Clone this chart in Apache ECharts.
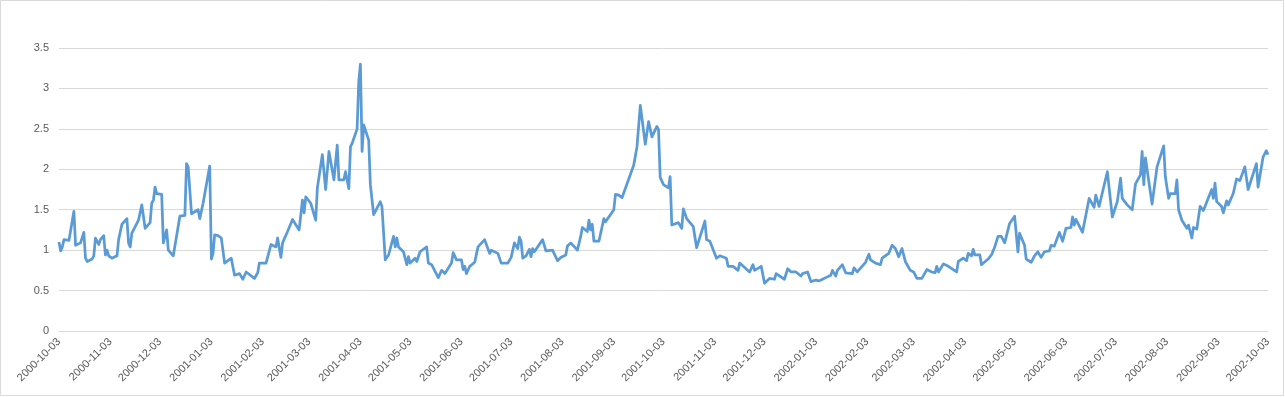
<!DOCTYPE html>
<html>
<head>
<meta charset="utf-8">
<script src="https://cdn.jsdelivr.net/npm/echarts@6/dist/echarts.min.js"></script>
<style>
  html, body { margin: 0; padding: 0; background: #fff; }
  #chart { width: 1285px; height: 397px; }
</style>
</head>
<body>
<div id="chart"></div>
<script>
// day number counted from 2000-10-03
const days = [
  0, 1, 2, 3, 6, 9, 10, 13, 15, 16, 17, 20, 21, 22, 24, 25, 27, 28, 29, 30,
  32, 35, 36, 37, 38, 41, 42, 43, 44, 45, 48, 49, 50, 52, 55, 56, 57, 58, 59, 62,
  63, 65, 66, 69, 73, 76, 77, 78, 80, 84, 85, 86, 87, 91, 92, 93, 94, 96, 98, 100,
  104, 106, 109, 111, 113, 118, 120, 121, 125,
  128, 131, 132, 134, 135, 138, 141, 145, 147, 148, 149, 152, 155, 156, 159, 161,
  163, 166, 168, 169, 172, 173, 175, 176, 177, 180, 181, 182, 183, 184, 187, 188,
  190, 194, 195, 197, 199, 202, 203, 204, 205, 208, 210, 211, 212, 215, 216, 218,
  222, 223, 225, 229, 231, 233, 237, 238, 240, 243,
  244, 245, 246, 248, 251, 253, 257, 260, 261, 265, 267, 271, 273, 275, 277, 278,
  279, 280, 282, 284, 285, 286, 287, 292, 294, 298, 301, 303, 306, 307, 309, 313,
  315, 316, 319, 320, 321, 322, 323, 326,
  329, 330, 335, 336, 338, 340, 347, 349, 351, 354, 355, 356, 357, 358, 361, 362,
  363, 365, 368, 369, 370, 374, 375, 376, 377, 379, 383, 385, 390, 391, 393, 397,
  399, 403, 404, 407, 410, 411, 417, 419, 420, 424, 426, 429, 432, 433, 438, 440,
  442, 445, 448,
  449, 452, 454, 457, 459, 461, 463, 466, 467, 469, 470, 473, 475, 479, 480, 482,
  487, 489, 490, 493, 494, 496, 497, 501, 502, 503, 505, 507, 509, 511, 514, 516,
  518, 521, 524, 527, 529, 530, 531, 534, 537, 542, 543, 546, 548, 549, 551, 552,
  553, 556, 557, 561, 563, 565, 566, 567, 569, 571, 572, 574, 577, 578, 579, 580,
  583, 584, 587,
  589, 591, 593, 595, 598, 599, 601, 604, 606, 608, 611, 612, 613, 614, 615, 618,
  622, 625, 626, 628, 629, 633, 636, 639, 641, 642, 645, 646, 648, 650, 653, 654,
  655, 656, 660, 661, 663, 667, 668, 670, 671, 674, 675, 676, 678, 681, 682, 684,
  685, 687, 689, 691, 696, 697, 698, 699, 702, 703, 704, 705, 706, 709, 710, 711,
  713, 716, 717, 718, 723, 724, 727, 729, 730
];

const values = [
  1.10, 0.99, 1.04, 1.13, 1.12, 1.48, 1.06, 1.09, 1.22, 0.90, 0.86, 0.89, 0.93, 1.15, 1.07, 1.13, 1.18, 0.94, 1.00, 0.93,
  0.90, 0.93, 1.13, 1.15, 1.32, 1.39, 1.09, 1.04, 1.21, 1.22, 1.37, 1.38, 1.56, 1.27, 1.34, 1.58, 1.62, 1.78, 1.70, 1.69,
  1.09, 1.25, 1.00, 0.93, 1.42, 1.43, 2.07, 2.03, 1.45, 1.50, 1.39, 1.39, 1.58, 2.04, 0.89, 0.96, 1.19, 1.18, 1.15, 0.84,
  0.90, 0.69, 0.71, 0.64, 0.73, 0.65, 0.72, 0.84, 0.84,
  1.07, 1.04, 1.15, 0.91, 1.09, 1.23, 1.38, 1.25, 1.62, 1.46, 1.66, 1.58, 1.37, 1.77, 2.18, 1.75,
  2.22, 1.87, 2.30, 1.87, 1.87, 1.97, 1.76, 2.28, 2.32, 2.50, 3.09, 3.30, 2.22, 2.55, 2.36, 1.81,
  1.44, 1.60, 1.54, 0.88, 0.94, 1.17, 1.04, 1.15, 1.04, 0.98, 0.82, 0.92, 0.84, 0.90, 0.86, 0.98,
  1.04, 0.84, 0.82, 0.66, 0.75, 0.71, 0.84, 0.97, 0.88, 0.88,
  0.76, 0.80, 0.71, 0.80, 0.85, 1.04, 1.13, 0.96, 1.00, 0.96, 0.84, 0.84, 0.91, 1.09, 1.02, 1.16,
  1.11, 0.90, 0.93, 1.01, 0.92, 1.02, 0.98, 1.13, 0.99, 1.00, 0.87, 0.91, 0.94, 1.05, 1.09, 1.00,
  1.17, 1.28, 1.23, 1.37, 1.25, 1.32, 1.11, 1.11,
  1.39, 1.35, 1.50, 1.69, 1.68, 1.65, 2.05, 2.28, 2.79, 2.31, 2.33, 2.59, 2.59, 2.40, 2.53, 2.49,
  1.90, 1.81, 1.77, 1.91, 1.31, 1.34, 1.36, 1.27, 1.51, 1.39, 1.29, 1.03, 1.36, 1.13, 1.11, 0.90,
  0.93, 0.90, 0.80, 0.80, 0.75, 0.84, 0.73, 0.82, 0.75, 0.80, 0.59, 0.65, 0.64, 0.71, 0.64, 0.77,
  0.73, 0.73, 0.68,
  0.71, 0.73, 0.61, 0.63, 0.62, 0.64, 0.66, 0.69, 0.75, 0.68, 0.75, 0.82, 0.72, 0.71, 0.78, 0.73,
  0.85, 0.95, 0.88, 0.84, 0.86, 0.82, 0.90, 0.96, 0.94, 1.06, 1.02, 0.92, 1.02, 0.86, 0.75, 0.73,
  0.65, 0.65, 0.76, 0.73, 0.72, 0.80, 0.73, 0.83, 0.80, 0.73, 0.86, 0.90, 0.87, 0.96, 0.93, 1.01,
  0.94, 0.94, 0.82, 0.89, 0.94, 1.04, 1.02, 1.17, 1.17, 1.09, 1.11, 1.33, 1.42, 1.42, 0.98, 1.21,
  1.06, 0.89, 0.85,
  0.93, 0.98, 0.91, 0.98, 0.99, 1.06, 1.05, 1.22, 1.11, 1.27, 1.28, 1.41, 1.31, 1.38, 1.37, 1.22,
  1.64, 1.53, 1.68, 1.54, 1.55, 1.97, 1.41, 1.60, 1.89, 1.64, 1.56, 1.58, 1.50, 1.82, 1.93, 2.22,
  1.81, 2.14, 1.57, 1.57, 2.03, 2.29, 1.91, 1.64, 1.70, 1.70, 1.87, 1.50, 1.37, 1.27, 1.31, 1.15,
  1.28, 1.26, 1.54, 1.49, 1.75, 1.64, 1.83, 1.60, 1.54, 1.46, 1.46, 1.61, 1.56, 1.70, 1.72, 1.88,
  1.86, 2.03, 2.03, 1.75, 2.07, 1.78, 2.15, 2.23, 2.18
];

const yTicks = [0, 0.5, 1, 1.5, 2, 2.5, 3, 3.5];

// one category per calendar day, 2000-10-03 .. 2002-10-03
const startDay = Date.UTC(2000, 9, 3);
const categories = [];
for (let i = 0; i <= 730; i++) {
    categories.push(new Date(startDay + i * 86400000).toISOString().slice(0, 10));
}

const labelColor = '#595959';
const gridColor = '#d9d9d9';

let myChart = echarts.init(document.getElementById('chart'));
let option = {
    animation: false,
    backgroundColor: '#fff',
    graphic: [{
        type: 'rect',
        shape: { x: 0.5, y: 0.5, width: 1283, height: 395 },
        style: { fill: null, stroke: gridColor, lineWidth: 1 },
        silent: true
    }],
    grid: { left: 59, right: 17, top: 48, bottom: 66 },
    xAxis: {
        type: 'category',
        data: categories,
        boundaryGap: false,
        axisLine: { lineStyle: { color: gridColor } },
        axisTick: { show: false },
        axisLabel: {
            interval: function (idx, val) { return val.slice(8) === '03'; },
            rotate: 45,
            color: labelColor,
            fontFamily: 'Liberation Sans',
            fontSize: 11,
            margin: 9
        },
        splitLine: { show: false }
    },
    yAxis: {
        type: 'value',
        min: yTicks[0],
        max: yTicks[yTicks.length - 1],
        interval: 0.5,
        axisLine: { show: false },
        axisTick: { show: false },
        axisLabel: { color: labelColor, fontFamily: 'Liberation Sans', fontSize: 11, margin: 10 },
        splitLine: { lineStyle: { color: gridColor, width: 1 } }
    },
    series: [{
        type: 'line',
        data: days.map((d, i) => [d, values[i]]),
        showSymbol: false,
        symbol: 'none',
        lineStyle: { color: '#5b9bd5', width: 2.75, join: 'round' },
        itemStyle: { color: '#5b9bd5' }
    }]
};
myChart.setOption(option);
</script>
</body>
</html>
